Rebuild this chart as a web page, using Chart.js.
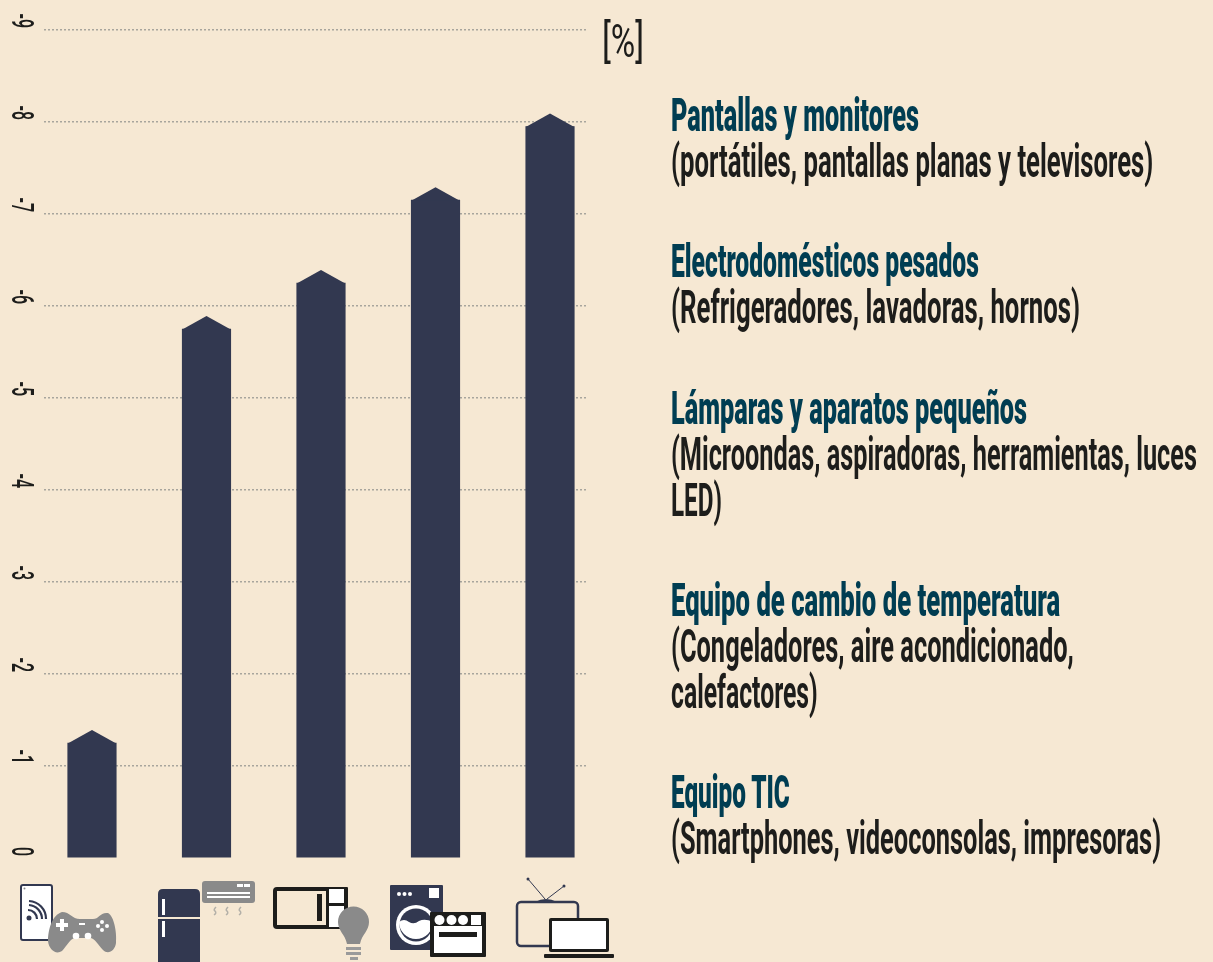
<!DOCTYPE html>
<html lang="es">
<head>
  <meta charset="UTF-8" />
  <title>RAEE por categoría</title>
  <script src="https://cdn.jsdelivr.net/npm/chart.js"></script>
  <style>
    html, body { margin: 0; padding: 0; background: #f6e8d3; }
    #wrap { position: relative; width: 1213px; height: 962px; overflow: hidden; background: #f6e8d3; }
    #chart { position: absolute; left: 0; top: 0; }
    #icons { position: absolute; left: 0; top: 0; }
    .line {
      position: absolute; left: 671px; white-space: nowrap; transform-origin: 0 50%;
      font-family: Roboto, sans-serif; font-size: 47px; line-height: 46px; color: #1d1d1b; font-weight: 700;
    }
    .line.head { font-weight: 900; color: #003d52; }
  </style>
</head>
<body>
  <div id="wrap">
    <canvas id="chart" width="1213" height="962"></canvas>
    <svg id="icons" width="1213" height="962" viewBox="0 0 1213 962">
      <!-- tablet + mando -->
      <rect x="21" y="885" width="31" height="55" rx="2" fill="#fff" stroke="#323850" stroke-width="2"/>
      <circle cx="24.500" cy="888.500" r="1" fill="#8a8a8a"/>
      <circle cx="29" cy="918" r="2.500" fill="#323850"/>
      <g fill="none" stroke="#323850" stroke-width="2.200">
        <path d="M28 910 A 9 9 0 0 1 37 919"/>
        <path d="M29 905 A 14 14 0 0 1 42 919"/>
        <path d="M29 901 A 18 18 0 0 1 46 919"/>
      </g>
      <path d="M62 912 C70 912 72 919 80 919 L93 919 C99 919 100 912 108 913 C114 916 117 932 116 943 C115 951 108 955 103 950 C98 945 95 938 90 938 L76 938 C70 938 67 946 62 951 C56 955 49 950 48 941 C48 930 52 915 62 912 Z" fill="#8a8a8a"/>
      <g fill="#fff">
        <rect x="56" y="923" width="12" height="4"/><rect x="60" y="919" width="4" height="12"/>
        <rect x="79" y="923" width="6" height="2"/>
        <circle cx="76" cy="936" r="3.300"/><circle cx="88" cy="936" r="3.300"/>
        <circle cx="102" cy="922" r="2"/><circle cx="102" cy="930" r="2"/><circle cx="98" cy="926" r="2"/><circle cx="107" cy="926" r="2"/>
      </g>
      <!-- nevera + aire -->
      <path d="M158 917 L158 894 Q158 889 163 889 L195 889 Q200 889 200 894 L200 917 Z" fill="#323850"/>
      <rect x="158" y="919" width="42" height="43" fill="#323850"/>
      <rect x="162" y="899" width="3" height="16" fill="#fff"/>
      <rect x="162" y="921" width="3" height="16" fill="#fff"/>
      <rect x="202" y="881" width="53" height="22" rx="3" fill="#8a8a8a"/>
      <rect x="207" y="892" width="43" height="2" fill="#fff"/>
      <rect x="207" y="896" width="43" height="2" fill="#fff"/>
      <rect x="237" y="884" width="6" height="3" fill="#fff"/>
      <rect x="244" y="884" width="6" height="3" fill="#fff"/>
      <g fill="none" stroke="#b3b0a8" stroke-width="1.500">
        <path d="M216 907 Q213 910 215 911 Q217 913 214 915"/>
        <path d="M228 907 Q225 910 227 911 Q229 913 226 915"/>
        <path d="M241 907 Q238 910 240 911 Q242 913 239 915"/>
      </g>
      <!-- microondas + bombilla -->
      <rect x="275" y="889" width="71" height="38" rx="2" fill="#f6e8d3" stroke="#1d1d1b" stroke-width="4"/>
      <rect x="328" y="889" width="18" height="38" fill="#fff"/>
      <rect x="326" y="889" width="3" height="38" fill="#1d1d1b"/>
      <rect x="328" y="903" width="18" height="3" fill="#1d1d1b"/>
      <rect x="317" y="894" width="5" height="27" fill="#1d1d1b"/>
      <rect x="344" y="887" width="4" height="42" rx="1" fill="#1d1d1b"/>
      <path d="M338 922 A15.500 15.500 0 0 1 369 922 C369 931 362 934 360 944 L347 944 C345 934 338 931 338 922 Z" fill="#8a8a8a"/>
      <rect x="346" y="947" width="15" height="3" fill="#9a9a9a"/>
      <rect x="346" y="952" width="15" height="3" fill="#9a9a9a"/>
      <rect x="350" y="957" width="8" height="3" fill="#9a9a9a"/>
      <!-- lavadora + horno -->
      <rect x="390" y="885" width="53" height="65" rx="1" fill="#323850"/>
      <circle cx="399" cy="894" r="2" fill="#fff"/><circle cx="404.500" cy="894" r="2" fill="#fff"/><circle cx="410" cy="894" r="2" fill="#fff"/>
      <rect x="429" y="888" width="10" height="10" fill="#fff"/>
      <circle cx="416" cy="925" r="20" fill="#fff"/>
      <circle cx="416" cy="925" r="16.500" fill="#323850"/>
      <path d="M399 922 Q404 918 409 922 Q414 925 419 921 Q425 918 433 922 A 17 17 0 0 1 399 922 Z" fill="#fff"/>
      <rect x="430" y="912" width="56" height="45" rx="1" fill="#1d1d1b"/>
      <circle cx="439.500" cy="920" r="5" fill="#fff"/><circle cx="451.500" cy="920" r="5" fill="#fff"/><circle cx="463" cy="920" r="5" fill="#fff"/>
      <rect x="471" y="915" width="10" height="10" fill="#fff"/>
      <rect x="434" y="926" width="48" height="27" fill="#fff"/>
      <rect x="439" y="932" width="38" height="5" fill="#1d1d1b"/>
      <!-- tele + portátil -->
      <line x1="528" y1="879" x2="545" y2="899" stroke="#323850" stroke-width="1"/>
      <line x1="564" y1="886" x2="547" y2="899" stroke="#323850" stroke-width="1"/>
      <circle cx="528" cy="879" r="1.500" fill="#323850"/><circle cx="564" cy="886" r="1.500" fill="#323850"/>
      <path d="M535 902 Q546 896 557 902 Z" fill="#323850"/>
      <rect x="517" y="902" width="61" height="44" rx="4" fill="#f6e8d3" stroke="#323850" stroke-width="2.500"/>
      <rect x="549" y="918" width="60" height="34" rx="2" fill="#1d1d1b"/>
      <rect x="552" y="921" width="54" height="28" fill="#fff"/>
      <rect x="544" y="954" width="70" height="4" rx="1" fill="#1d1d1b"/>
    </svg>
    <div class="line" id="unit" style="left:602px; top:18px; font-size:46px; font-weight:400">[%]</div>
  </div>

  <script>
    // Values (height of the bar shoulder)
    const categories = ["Equipo TIC", "Equipo de cambio de temperatura", "Lámparas y aparatos pequeños", "Electrodomésticos pesados", "Pantallas y monitores"];
    const values = [-1.25, -5.75, -6.25, -7.15, -7.95];
    const tickValues = [-9, -8, -7, -6, -5, -4, -3, -2, -1, 0];

    const headLines = ["Pantallas y monitores", "Electrodomésticos pesados", "Lámparas y aparatos pequeños", "Equipo de cambio de temperatura", "Equipo TIC"];
    const headTops = [92, 238, 385, 577, 769];
    const headWidths = [248, 308, 356, 389, 119];
    const subLines = ["(portátiles, pantallas planas y televisores)", "(Refrigeradores, lavadoras, hornos)", "(Microondas, aspiradoras, herramientas, luces", "LED)", "(Congeladores, aire acondicionado,", "calefactores)", "(Smartphones, videoconsolas, impresoras)"];
    const subTops = [138, 284, 431, 477, 623, 669, 815];
    const subWidths = [482, 409, 526, 51, 403, 147, 490];

    const wrap = document.getElementById("wrap");
    function addLine(text, top, width, cls) {
      const d = document.createElement("div");
      d.className = cls;
      d.textContent = text;
      d.style.top = top + "px";
      wrap.appendChild(d);
      d.style.transform = "scaleX(" + (width / d.offsetWidth) + ")";
    }
    headLines.forEach((t, i) => addLine(t, headTops[i], headWidths[i], "line head"));
    subLines.forEach((t, i) => addLine(t, subTops[i], subWidths[i], "line"));
    const unit = document.getElementById("unit");
    unit.style.transform = "scaleX(" + (42 / unit.offsetWidth) + ")";

    // Pointed top of each bar
    const roofPlugin = {
      id: "roof",
      afterDatasetsDraw(chart) {
        const ctx = chart.ctx;
        ctx.save();
        ctx.fillStyle = "#323850";
        chart.getDatasetMeta(0).data.forEach(bar => {
          ctx.beginPath();
          ctx.moveTo(bar.x - bar.width / 2, bar.y + 0.5);
          ctx.lineTo(bar.x, bar.y - 13);
          ctx.lineTo(bar.x + bar.width / 2, bar.y + 0.5);
          ctx.closePath();
          ctx.fill();
        });
        ctx.restore();
      }
    };

    // Tick labels are turned a quarter and squeezed like the condensed type of the original
    const sideLabels = {
      id: "sideLabels",
      afterDraw(chart) {
        const ctx = chart.ctx;
        const y = chart.scales.y;
        ctx.save();
        ctx.fillStyle = "#1d1d1b";
        ctx.font = "500 32px Roboto, sans-serif";
        ctx.textBaseline = "middle";
        ctx.textAlign = "right";
        tickValues.forEach(v => {
          ctx.save();
          ctx.translate(19.5, y.getPixelForValue(v) - 2);
          ctx.rotate(Math.PI / 2);
          ctx.scale(0.5, 1);
          ctx.fillText(String(v), 0, 0);
          ctx.restore();
        });
        ctx.restore();
      }
    };

    new Chart(document.getElementById("chart"), {
      type: "bar",
      data: {
        datasets: [{
          label: "%",
          data: categories.map((c, i) => ({ x: i + 1, y: values[i] })),
          backgroundColor: "#323850",
          borderWidth: 0,
          barThickness: 48.5
        }]
      },
      options: {
        responsive: false,
        animation: false,
        layout: { padding: { left: 44, right: 626, top: 30, bottom: 104 } },
        plugins: { legend: { display: false }, tooltip: { enabled: false } },
        scales: {
          x: { type: "linear", display: false, offset: false, min: 0.581, max: 5.323, grid: { display: false } },
          y: {
            reverse: true,
            min: -9,
            max: 0,
            afterFit: s => { s.width = 0; },
            ticks: { display: false, stepSize: 1 },
            border: { display: false, dash: [2, 2] },
            grid: {
              drawTicks: false,
              lineWidth: 1.5,
              color: c => c.tick.value === 0 ? "transparent" : "#a8a59d"
            }
          }
        }
      },
      plugins: [roofPlugin, sideLabels]
    });
  </script>
</body>
</html>
